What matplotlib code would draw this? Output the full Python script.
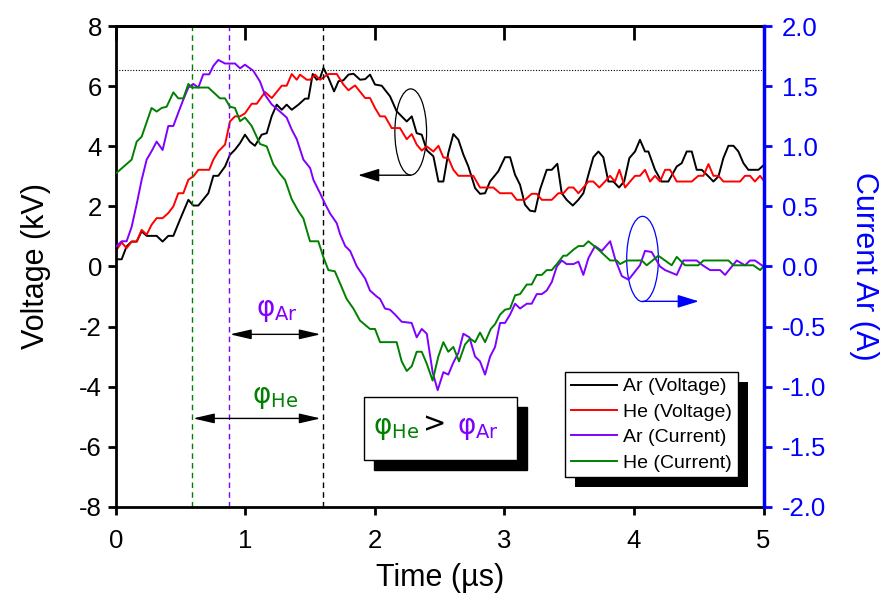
import numpy as np
import matplotlib
matplotlib.use('Agg')
import matplotlib.pyplot as plt
from matplotlib.patches import Ellipse, Rectangle
from matplotlib.transforms import IdentityTransform
from matplotlib.ticker import FormatStrFormatter

plt.rcParams['font.family'] = ['Liberation Sans', 'DejaVu Sans']
plt.rcParams['axes.unicode_minus'] = False

# ---- Ar / He discharge voltage (kV) ----
t_ar_v = [0.005, 0.044, 0.082, 0.121, 0.16, 0.198, 0.237, 0.314, 0.36, 0.404, 0.443, 0.494, 0.559, 0.597,
          0.636, 0.713, 0.752, 0.79, 0.842, 0.88, 0.919, 0.958, 0.996, 1.035, 1.073, 1.125, 1.164, 1.202,
          1.241, 1.28, 1.318, 1.357, 1.409, 1.46, 1.486, 1.519, 1.55, 1.576, 1.602, 1.641, 1.684, 1.718,
          1.756, 1.795, 1.834, 1.885, 1.924, 1.962, 2.0, 2.052, 2.116, 2.167, 2.206, 2.245, 2.284, 2.322,
          2.361, 2.4, 2.451, 2.49, 2.528, 2.566, 2.605, 2.644, 2.683, 2.721, 2.773, 2.811, 2.85, 2.888,
          2.952, 3.004, 3.043, 3.081, 3.12, 3.158, 3.197, 3.236, 3.274, 3.326, 3.365, 3.408, 3.442, 3.48,
          3.527, 3.57, 3.609, 3.648, 3.686, 3.725, 3.763, 3.802, 3.841, 3.884, 3.924, 3.964, 4.008, 4.046,
          4.085, 4.111, 4.162, 4.213, 4.265, 4.33, 4.368, 4.407, 4.446, 4.484, 4.523, 4.575, 4.613, 4.652,
          4.69, 4.729, 4.768, 4.806, 4.845, 4.883, 4.961, 5.0]
ar_v = [0.24, 0.24, 0.67, 0.83, 0.83, 1.17, 1.02, 1.02, 0.83, 1.02, 1.02, 1.56, 2.22, 2.03,
        2.03, 2.44, 3.02, 3.02, 3.33, 3.72, 3.89, 4.11, 4.39, 4.15, 4.02, 4.39, 4.44, 5.0,
        5.39, 5.22, 5.39, 5.22, 5.39, 5.59, 5.59, 6.41, 6.22, 6.28, 6.61, 6.28, 5.83, 6.17,
        6.2, 6.39, 6.42, 6.22, 6.24, 6.39, 6.06, 6.02, 5.67, 5.17, 5.0, 4.83, 5.0, 4.44,
        4.39, 3.87, 3.67, 2.83, 2.83, 3.78, 4.41, 4.22, 3.72, 3.33, 2.61, 2.42, 2.44, 2.83,
        3.17, 3.64, 3.64, 3.06, 2.72, 2.06, 1.86, 1.83, 2.56, 3.22, 3.22, 3.42, 2.44, 2.22,
        2.03, 2.22, 2.44, 3.06, 3.64, 3.83, 3.64, 2.83, 2.83, 2.63, 2.83, 3.61, 3.83, 4.22,
        3.83, 3.83, 3.22, 2.83, 2.83, 3.33, 3.44, 3.83, 3.83, 3.22, 3.22, 3.0, 2.83, 3.0,
        3.61, 4.02, 4.02, 3.83, 3.44, 3.22, 3.22, 3.37]

t_he_v = [0.005, 0.044, 0.082, 0.121, 0.16, 0.198, 0.237, 0.275, 0.314, 0.36, 0.404, 0.443, 0.481, 0.52,
          0.559, 0.597, 0.636, 0.72, 0.752, 0.79, 0.842, 0.88, 0.919, 0.958, 0.996, 1.048, 1.087, 1.151,
          1.203, 1.28, 1.318, 1.357, 1.396, 1.421, 1.473, 1.499, 1.537, 1.576, 1.641, 1.705, 1.756, 1.795,
          1.846, 1.924, 1.962, 2.0, 2.039, 2.077, 2.129, 2.193, 2.245, 2.284, 2.322, 2.361, 2.4, 2.451,
          2.49, 2.528, 2.566, 2.605, 2.644, 2.759, 2.811, 2.914, 2.965, 3.055, 3.094, 3.158, 3.21, 3.249,
          3.288, 3.365, 3.416, 3.455, 3.494, 3.532, 3.571, 3.609, 3.648, 3.686, 3.732, 3.776, 3.815, 3.853,
          3.887, 3.931, 3.97, 4.008, 4.046, 4.085, 4.124, 4.162, 4.201, 4.24, 4.278, 4.33, 4.446, 4.497,
          4.536, 4.575, 4.613, 4.652, 4.69, 4.819, 4.857, 4.896, 4.934, 4.973, 5.0]
he_v = [0.56, 0.8, 0.61, 0.83, 0.83, 1.22, 1.06, 1.39, 1.61, 1.61, 1.78, 2.0, 2.44, 2.44,
        2.89, 3.0, 3.22, 3.22, 3.56, 3.83, 4.06, 4.83, 5.0, 5.0, 5.1, 5.42, 5.42, 5.81,
        5.61, 6.02, 6.02, 6.41, 6.22, 6.39, 6.22, 6.22, 6.39, 6.22, 6.41, 6.41, 6.06, 5.87,
        6.03, 5.61, 5.61, 5.28, 5.0, 5.0, 4.61, 4.61, 4.24, 4.41, 4.06, 3.86, 4.0, 3.83,
        4.02, 3.63, 3.61, 3.22, 3.02, 3.02, 2.63, 2.63, 2.44, 2.44, 2.22, 2.22, 2.42, 2.42,
        2.22, 2.22, 2.44, 2.44, 2.63, 2.63, 2.44, 2.63, 2.83, 2.83, 2.63, 2.83, 3.02, 2.83,
        3.22, 2.63, 2.83, 3.02, 3.02, 3.22, 2.83, 3.02, 2.83, 3.22, 3.22, 2.83, 2.83, 3.02,
        3.02, 3.41, 3.02, 3.02, 2.83, 2.83, 3.02, 3.02, 2.83, 3.02, 2.87]

# ---- Ar / He discharge current (A) ----
t_ar_i = [0.005, 0.044, 0.082, 0.121, 0.16, 0.198, 0.237, 0.275, 0.314, 0.36, 0.404, 0.443, 0.481, 0.52,
          0.559, 0.597, 0.636, 0.674, 0.72, 0.752, 0.79, 0.842, 0.919, 0.958, 0.996, 1.06, 1.112, 1.15,
          1.202, 1.266, 1.318, 1.357, 1.396, 1.447, 1.499, 1.525, 1.576, 1.615, 1.654, 1.705, 1.73, 1.77,
          1.808, 1.86, 1.924, 1.961, 2.013, 2.039, 2.077, 2.116, 2.155, 2.206, 2.283, 2.322, 2.361, 2.4,
          2.445, 2.484, 2.528, 2.566, 2.605, 2.644, 2.682, 2.729, 2.773, 2.811, 2.85, 2.889, 2.927, 2.966,
          3.004, 3.043, 3.082, 3.12, 3.172, 3.21, 3.249, 3.288, 3.326, 3.365, 3.404, 3.442, 3.48, 3.532,
          3.571, 3.609, 3.648, 3.699, 3.751, 3.816, 3.855, 3.906, 3.958, 4.046, 4.085, 4.137, 4.201, 4.24,
          4.33, 4.381, 4.484, 4.53, 4.587, 4.665, 4.703, 4.793, 4.857, 4.896, 4.934, 5.0]
ar_i = [0.17, 0.21, 0.21, 0.33, 0.52, 0.72, 0.89, 0.96, 1.04, 0.97, 1.17, 1.17, 1.28, 1.39,
        1.49, 1.52, 1.49, 1.60, 1.60, 1.67, 1.72, 1.69, 1.69, 1.65, 1.68, 1.63, 1.54, 1.43,
        1.35, 1.29, 1.24, 1.14, 1.06, 0.89, 0.82, 0.72, 0.61, 0.52, 0.44, 0.36, 0.27, 0.17,
        0.13, 0.0, -0.10, -0.20, -0.25, -0.27, -0.35, -0.36, -0.40, -0.46, -0.47, -0.59, -0.52, -0.56,
        -0.88, -1.03, -0.88, -0.90, -0.80, -0.72, -0.56, -0.59, -0.75, -0.79, -0.90, -0.75, -0.67, -0.47,
        -0.47, -0.40, -0.31, -0.35, -0.31, -0.31, -0.23, -0.23, -0.20, -0.13, 0.0, 0.05, 0.02, 0.02,
        0.04, -0.07, 0.07, 0.17, 0.13, 0.21, 0.06, -0.08, -0.11, 0.01, 0.13, 0.12, 0.0, -0.03,
        -0.07, 0.05, 0.05, 0.01, -0.03, -0.03, -0.07, 0.05, 0.01, 0.05, 0.05, 0.0]

t_he_i = [0.005, 0.121, 0.16, 0.198, 0.275, 0.314, 0.353, 0.391, 0.443, 0.481, 0.52, 0.559, 0.584, 0.713,
          0.803, 0.842, 0.88, 0.919, 0.958, 0.996, 1.048, 1.112, 1.164, 1.215, 1.267, 1.306, 1.357, 1.409,
          1.447, 1.498, 1.562, 1.601, 1.64, 1.69, 1.73, 1.781, 1.833, 1.884, 1.961, 2.0, 2.039, 2.167,
          2.206, 2.245, 2.284, 2.322, 2.361, 2.4, 2.445, 2.489, 2.528, 2.566, 2.605, 2.649, 2.695, 2.734,
          2.773, 2.811, 2.85, 2.894, 2.927, 2.966, 3.004, 3.043, 3.082, 3.12, 3.172, 3.21, 3.249, 3.288,
          3.326, 3.365, 3.404, 3.454, 3.48, 3.532, 3.571, 3.61, 3.648, 3.726, 3.816, 3.867, 3.892, 3.944,
          4.06, 4.098, 4.188, 4.291, 4.33, 4.394, 4.497, 4.536, 4.729, 4.768, 4.922, 4.974, 5.0]
he_i = [0.78, 0.89, 1.04, 1.08, 1.32, 1.29, 1.32, 1.33, 1.45, 1.40, 1.40, 1.52, 1.49, 1.49,
        1.40, 1.40, 1.33, 1.32, 1.21, 1.24, 1.17, 1.02, 1.00, 0.85, 0.77, 0.72, 0.56, 0.46,
        0.40, 0.21, 0.21, 0.08, -0.03, -0.04, -0.14, -0.27, -0.35, -0.45, -0.52, -0.52, -0.63, -0.63,
        -0.79, -0.87, -0.83, -0.71, -0.71, -0.81, -0.95, -0.75, -0.63, -0.71, -0.67, -0.79, -0.65, -0.60,
        -0.63, -0.55, -0.63, -0.52, -0.48, -0.40, -0.36, -0.35, -0.24, -0.23, -0.15, -0.15, -0.07, -0.07,
        -0.03, -0.03, 0.02, 0.09, 0.09, 0.14, 0.17, 0.17, 0.21, 0.14, 0.05, 0.05, 0.02, 0.05,
        0.05, 0.01, 0.09, 0.01, 0.08, 0.01, 0.01, 0.05, 0.05, 0.01, 0.01, -0.03, 0.0]

series_labels = ['Ar (Voltage)', 'He (Voltage)', 'Ar (Current)', 'He (Current)']

# phase markers (µs) and peak level (kV)
t_he_peak_i = 0.585
t_ar_peak_i = 0.87
t_peak_v = 1.6
v_peak_level = 6.56

C_AR_I = '#8000ff'
C_HE_I = '#008000'
C_BLUE = '#0000ff'
PHI_FONT = ['DejaVu Sans']

fig = plt.figure(figsize=(8.84, 6.0), dpi=100)
ax = fig.add_axes([0.1312, 0.1555, 0.7325, 0.8007])
ax2 = ax.twinx()

l1, = ax.plot(t_ar_v, ar_v, color='black', lw=1.4)
l2, = ax.plot(t_he_v, he_v, color='#ff0000', lw=1.4)
l3, = ax2.plot(t_ar_i, ar_i, color=C_AR_I, lw=1.4)
l4, = ax2.plot(t_he_i, he_i, color=C_HE_I, lw=1.4)

ax.set_xlim(0, 5)
ax.set_ylim(-8, 8)
ax2.set_ylim(-2, 2)
ax.set_xticks(np.arange(0, 6, 1))
ax.set_yticks(np.arange(-8, 9, 2))
ax2.set_yticks(np.arange(-2, 2.01, 0.5))
ax2.yaxis.set_major_formatter(FormatStrFormatter('%.1f'))

# guide lines
ax.axvline(t_he_peak_i, color=C_HE_I, ls=(0, (4, 3)), lw=1)
ax.axvline(t_ar_peak_i, color=C_AR_I, ls=(0, (4, 3)), lw=1)
ax.axvline(t_peak_v, color='black', ls=(0, (4, 3)), lw=1)
ax.axhline(v_peak_level, color='black', ls=(0, (1, 1.5)), lw=0.8)

# spines and ticks
for s in ['left', 'bottom', 'top']:
    ax.spines[s].set_linewidth(2)
ax.spines['right'].set_visible(False)
for s in ['left', 'bottom', 'top']:
    ax2.spines[s].set_visible(False)
ax2.spines['right'].set_color(C_BLUE)
ax2.spines['right'].set_linewidth(2.5)
ax.tick_params(axis='both', direction='out', length=6, width=2, labelsize=18.5)
ax.tick_params(axis='x', pad=10)
ax.tick_params(axis='y', pad=4)
ax2.tick_params(axis='y', direction='out', length=6, width=2, colors=C_BLUE, labelsize=18.5, pad=7)

top = ax.secondary_xaxis('top')
top.set_xticks(np.arange(0, 6, 1))
top.tick_params(direction='in', length=10, width=2, labeltop=False)
top.spines['top'].set_linewidth(2)

ax.set_xlabel('Time (µs)', fontsize=22, labelpad=7)
ax.set_ylabel('Voltage (kV)', fontsize=22, labelpad=20)
ax2.set_ylabel('Current Ar (A)', fontsize=22, color=C_BLUE, rotation=270, labelpad=38)

# phase arrows
arrow_kw = dict(arrowstyle='<|-|>,head_length=0.65,head_width=0.15', color='black', lw=1,
                mutation_scale=20, shrinkA=0, shrinkB=0)
ax.annotate('', xy=(t_peak_v - 0.02, -2.26), xytext=(t_ar_peak_i + 0.01, -2.26), arrowprops=arrow_kw)
ax.annotate('', xy=(t_peak_v - 0.02, -5.06), xytext=(t_he_peak_i + 0.01, -5.06), arrowprops=arrow_kw)
ax.text(1.24, -1.45, r'$\mathregular{φ_{Ar}}$', color=C_AR_I, fontsize=20, ha='center', va='center',
        family=PHI_FONT)
ax.text(1.23, -4.33, r'$\mathregular{φ_{He}}$', color=C_HE_I, fontsize=20, ha='center', va='center',
        family=PHI_FONT)

# curve pointers
ptr_kw = dict(arrowstyle='-|>,head_length=0.65,head_width=0.2', lw=1, mutation_scale=20,
              shrinkA=0, shrinkB=0)
ax.add_patch(Ellipse((2.276, 4.48), 0.245, 2.87, fill=False, ec='black', lw=0.9))
ax.annotate('', xy=(1.87, 3.04), xytext=(2.276, 3.04), arrowprops=dict(color='black', **ptr_kw))
ax2.add_patch(Ellipse((4.066, 0.0625), 0.245, 0.71, fill=False, ec=C_BLUE, lw=0.9))
ax2.annotate('', xy=(4.5, -0.29), xytext=(4.066, -0.29), arrowprops=dict(color=C_BLUE, **ptr_kw))

# comparison box with drop shadow
bx0, by0, bw, bh = 1.915, -6.44, 1.182, 2.11
shadow_off = (0.077, -0.333)
ax.add_patch(Rectangle((bx0 + shadow_off[0], by0 + shadow_off[1]), bw, bh, fc='black', ec='black', zorder=4))
ax.add_patch(Rectangle((bx0, by0), bw, bh, fc='white', ec='black', lw=1, zorder=5))
cx, cy = bx0 + bw / 2, by0 + bh / 2
for txt, col, dx, dy in [(r'$\mathregular{φ_{He}}$', C_HE_I, -32, 0),
                         ('>', 'black', -4, 3),
                         (r'$\mathregular{φ_{Ar}}$', C_AR_I, 27, 0)]:
    ax.annotate(txt, xy=(cx, cy), xytext=(dx, dy), textcoords='offset points', color=col,
                fontsize=20, ha='center', va='center', zorder=6, family=PHI_FONT)

leg = ax2.legend([l1, l2, l3, l4], series_labels, loc='upper left', bbox_to_anchor=(0.693, 0.2804),
                 borderaxespad=0, fontsize=14, frameon=True, fancybox=False, framealpha=1,
                 edgecolor='black', handlelength=2.4, handletextpad=0.3, labelspacing=0.4,
                 borderpad=0.3)
leg.get_frame().set_linewidth(1)
leg.set_zorder(10)

# drop shadow behind the legend frame
fig.canvas.draw()
bb = leg.get_window_extent()
ax2.add_patch(Rectangle((bb.x0 + 10, bb.y0 - 10), bb.width, bb.height, transform=IdentityTransform(),
                        fc='black', ec='none', zorder=9, clip_on=False))

fig.savefig('out.png', dpi=100)
